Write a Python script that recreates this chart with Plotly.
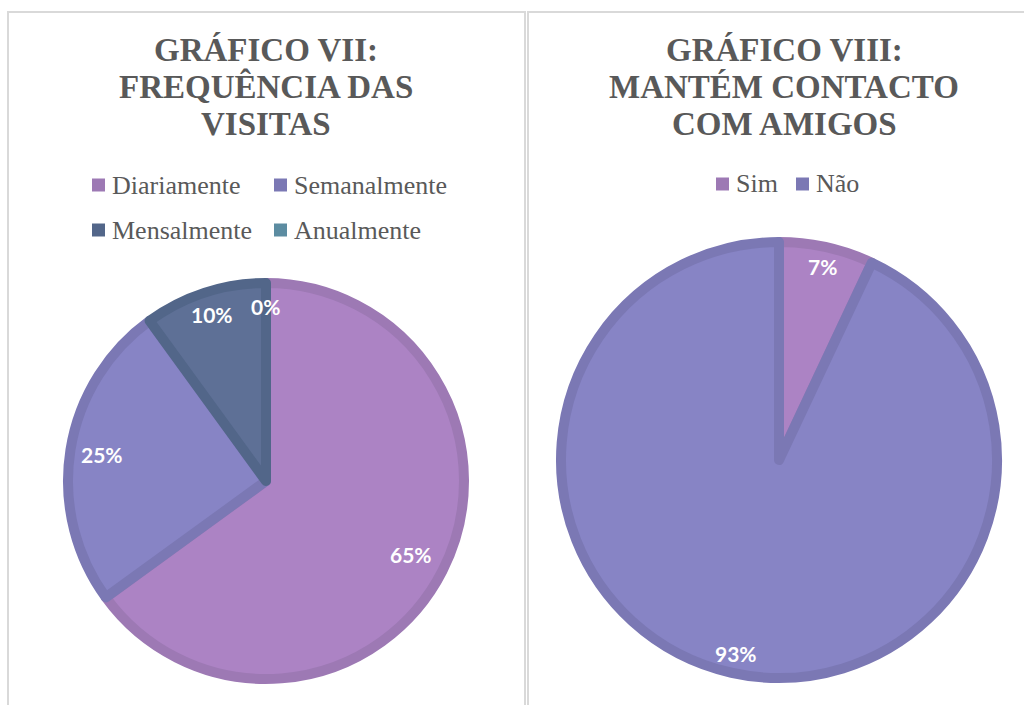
import math
import plotly.graph_objects as go

# ---------------- data ----------------
left_title = ["GRÁFICO VII:", "FREQUÊNCIA DAS", "VISITAS"]
left_labels = ["Diariamente", "Semanalmente", "Mensalmente", "Anualmente"]
left_values = [65, 25, 10, 0]

right_title = ["GRÁFICO VIII:", "MANTÉM CONTACTO", "COM AMIGOS"]
right_labels = ["Sim", "Não"]
right_values = [7, 93]

# ---------------- styles ----------------
W, H = 1024, 705
LW = 10
left_fill = ["#AC83C4", "#8784C5", "#5E7096", "#5C8CA1"]
left_edge = ["#9D79B4", "#7B78B4", "#526689", "#5C8CA1"]
left_edge_w = [LW, LW, LW, 0]
right_fill = ["#AC83C4", "#8784C5"]
right_edge = ["#9D79B4", "#7B78B4"]
right_edge_w = [LW, LW]
left_label_r = [0.80, 0.82, 0.86, 0.86]
right_label_r = [0.89, 0.89]

TITLE_COLOR = "#595959"
GRID = "#D9D9D9"


def px(x):
    return x / W


def py(y):
    return 1 - y / H


def pie_domain(cx, cy, R, lw):
    r = R - lw / 2
    return dict(x=[px(cx - r), px(cx + r)], y=[py(cy + r), py(cy - r)])


fig = go.Figure()

L_CX, L_CY, L_R = 266, 481, 203
R_CX, R_CY, R_R = 779, 460, 223

fig.add_trace(go.Pie(
    labels=left_labels, values=left_values, sort=False, direction="clockwise",
    rotation=0, textinfo="none", hoverinfo="skip", showlegend=False,
    marker=dict(colors=left_fill, line=dict(color=left_edge, width=left_edge_w)),
    domain=pie_domain(L_CX, L_CY, L_R, LW),
))
fig.add_trace(go.Pie(
    labels=right_labels, values=right_values, sort=False, direction="clockwise",
    rotation=0, textinfo="none", hoverinfo="skip", showlegend=False,
    marker=dict(colors=right_fill, line=dict(color=right_edge, width=right_edge_w)),
    domain=pie_domain(R_CX, R_CY, R_R, LW),
))

annotations = []
shapes = []


def add_labels(values, cx, cy, R, facs):
    total = sum(values)
    cum = 0
    for v, f in zip(values, facs):
        mid = (cum + v / 2) / total * 2 * math.pi
        cum += v
        x = cx + f * R * math.sin(mid)
        y = cy - f * R * math.cos(mid)
        annotations.append(dict(
            x=px(x), y=py(y), xref="paper", yref="paper", showarrow=False,
            text=f"{round(v / total * 100)}%", xanchor="center", yanchor="middle",
            font=dict(family="Lato", size=21, color="white", weight="bold"),
        ))


add_labels(left_values, L_CX, L_CY, L_R, left_label_r)
add_labels(right_values, R_CX, R_CY, R_R, right_label_r)


def add_title(lines, cx):
    for i, t in enumerate(lines):
        annotations.append(dict(
            x=px(cx), y=py(50 + 37 * i), xref="paper", yref="paper", showarrow=False,
            text=t, xanchor="center", yanchor="middle",
            font=dict(family="Liberation Serif", size=33, color=TITLE_COLOR, weight="bold"),
        ))


add_title(left_title, 266)
add_title(right_title, 784)


def add_legend_item(label, color, sx, sy):
    shapes.append(dict(type="rect", xref="paper", yref="paper",
                       x0=px(sx), x1=px(sx + 13), y0=py(sy - 6.5), y1=py(sy + 6.5),
                       fillcolor=color, line=dict(width=0)))
    annotations.append(dict(
        x=px(sx + 18), y=py(sy), xref="paper", yref="paper", showarrow=False,
        text=label, xanchor="left", yanchor="middle",
        font=dict(family="Liberation Serif", size=26, color=TITLE_COLOR),
    ))


left_leg_pos = [(92, 185), (274, 185), (92, 230), (274, 230)]
for lab, col, (sx, sy) in zip(left_labels, left_edge[:3] + [left_fill[3]], left_leg_pos):
    add_legend_item(lab, col, sx, sy)
right_leg_pos = [(716, 184), (796, 184)]
for lab, col, (sx, sy) in zip(right_labels, right_edge, right_leg_pos):
    add_legend_item(lab, col, sx, sy)

# panel borders
for x0, x1 in [(8, 525), (528, 1030)]:
    shapes.append(dict(type="path", xref="paper", yref="paper",
                       path=f"M {px(x0)},{py(712)} L {px(x0)},{py(12)} L {px(x1)},{py(12)} L {px(x1)},{py(712)}",
                       line=dict(color=GRID, width=2)))

fig.update_layout(
    width=W, height=H, margin=dict(l=0, r=0, t=0, b=0),
    paper_bgcolor="white", plot_bgcolor="white",
    annotations=annotations, shapes=shapes, showlegend=False,
)

fig.write_html("out.html", config={"displayModeBar": False},
               post_script="document.body.style.margin='0px';")
